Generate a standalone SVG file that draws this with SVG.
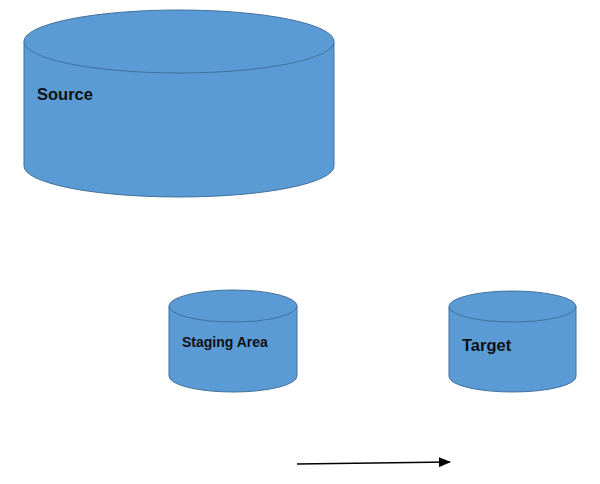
<svg xmlns="http://www.w3.org/2000/svg" width="600" height="484" viewBox="0 0 600 484">
<style>
.cyl{fill:#5B9BD5;stroke:#41719C;stroke-width:1}
.lbl{font-family:"Liberation Sans",Arial,sans-serif;font-weight:bold;fill:#111}
.conn{stroke:#000;stroke-width:1.5;fill:none}
</style>
<defs>
<marker id="arr" markerWidth="12" markerHeight="10" refX="11" refY="5" orient="auto" markerUnits="userSpaceOnUse">
<path d="M0,0 L12,5 L0,10 Z" fill="#000"/>
</marker>
</defs>
<rect width="600" height="484" fill="#fff"/>
<g id="source">
<path class="cyl" d="M24,41.5 L24,166 A155,31 0 0 0 334,166 L334,41.5 A155,31.5 0 0 0 24,41.5 Z"/>
<path class="cyl" d="M24,41.5 A155,31.5 0 0 0 334,41.5" fill="none"/>
<text class="lbl" x="37" y="100" font-size="16.5">Source</text>
</g>
<g id="staging">
<path class="cyl" d="M169,306 L169,376 A64,16 0 0 0 297,376 L297,306 A64,16 0 0 0 169,306 Z"/>
<path class="cyl" d="M169,306 A64,16 0 0 0 297,306" fill="none"/>
<text class="lbl" x="182" y="347" font-size="14">Staging Area</text>
</g>
<g id="target">
<path class="cyl" d="M449,306.5 L449,376.5 A63.5,15.5 0 0 0 576,376.5 L576,306.5 A63.5,15.5 0 0 0 449,306.5 Z"/>
<path class="cyl" d="M449,306.5 A63.5,15.5 0 0 0 576,306.5" fill="none"/>
<text class="lbl" x="462" y="351" font-size="16.5">Target</text>
</g>
<g id="connectors">
<line class="conn" x1="297" y1="464" x2="450" y2="462" marker-end="url(#arr)"/>
</g>
</svg>
